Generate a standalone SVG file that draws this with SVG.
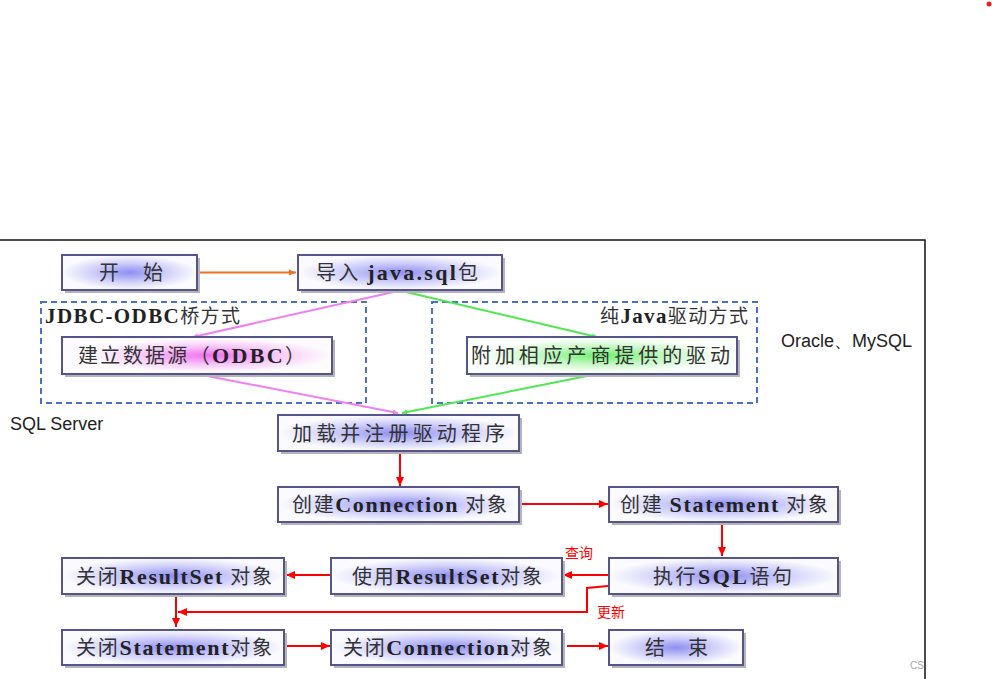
<svg xmlns="http://www.w3.org/2000/svg" width="992" height="679" viewBox="0 0 992 679">
<defs>
<radialGradient id="gBlue" cx="50%" cy="50%" r="50%">
<stop offset="0%" stop-color="#8e8ef2"/>
<stop offset="55%" stop-color="#cfcffa"/>
<stop offset="100%" stop-color="#fbfbff"/>
</radialGradient>
<radialGradient id="gPink" cx="55%" cy="50%" r="45%">
<stop offset="0%" stop-color="#f070f0"/>
<stop offset="55%" stop-color="#f8c8f8"/>
<stop offset="100%" stop-color="#fdfbff"/>
</radialGradient>
<radialGradient id="gGreen" cx="50%" cy="50%" r="45%">
<stop offset="0%" stop-color="#70f070"/>
<stop offset="55%" stop-color="#c8f8c8"/>
<stop offset="100%" stop-color="#fbfffb"/>
</radialGradient>
<marker id="aRed" markerUnits="userSpaceOnUse" markerWidth="10" markerHeight="10" refX="9" refY="5" orient="auto">
<path d="M0,1 L9,5 L0,9 Z" fill="#ff0000"/>
</marker>
<marker id="aOrange" markerUnits="userSpaceOnUse" markerWidth="8" markerHeight="8" refX="7" refY="4" orient="auto">
<path d="M0,1 L7,4 L0,7 Z" fill="#f07020"/>
</marker>
<marker id="aPink" markerUnits="userSpaceOnUse" markerWidth="6" markerHeight="6" refX="5" refY="3" orient="auto">
<path d="M0,0.5 L5,3 L0,5.5 Z" fill="#f080f0"/>
</marker>
<marker id="aGreen" markerUnits="userSpaceOnUse" markerWidth="6" markerHeight="6" refX="5" refY="3" orient="auto">
<path d="M0,0.5 L5,3 L0,5.5 Z" fill="#50e850"/>
</marker>
</defs>
<style>
.box{stroke:#55558a;stroke-width:2}
.shadow{fill:#b4b4bc}
.t{font-family:"Noto Sans CJK SC","Noto Sans CJK JP",sans-serif;font-size:20px;fill:#333}
.l{font-family:"Liberation Serif",serif;font-weight:bold;font-size:22px;fill:#222}
.dash{fill:none;stroke:#4a70c8;stroke-width:2;stroke-dasharray:6 4}
.red{fill:none;stroke:#ff0000;stroke-width:2}
.note{font-family:"Liberation Sans",Arial,sans-serif;font-size:18px;fill:#222}
.rl{font-family:"Noto Sans CJK SC",sans-serif;font-size:14px;fill:#ff0000}
.grp{font-family:"Noto Sans CJK SC",sans-serif;font-size:19px;fill:#333}
.gl{font-family:"Liberation Serif",serif;font-weight:bold;font-size:21px;fill:#222}
</style>
<rect width="992" height="679" fill="#ffffff"/>
<circle cx="989" cy="4" r="2.5" fill="#e82020"/>
<path d="M0,240 L925,240 L925,679" fill="none" stroke="#111" stroke-width="1.5"/>
<text x="910" y="669" font-family="Liberation Sans, sans-serif" font-size="10" fill="#aaa">CS</text>

<g id="group-jdbc-odbc">
<rect class="dash" x="41" y="302" width="325" height="101"/>
<text x="45" y="323" class="grp" textLength="195"><tspan class="gl" font-size="24">J</tspan><tspan class="gl">DBC-ODBC</tspan>桥方式</text>
</g>
<g id="group-pure-java">
<rect class="dash" x="432" y="302" width="325" height="101"/>
<text x="600" y="323" class="grp" textLength="148">纯<tspan class="gl">Java</tspan>驱动方式</text>
</g>

<g id="connectors">
<path d="M197,272.5 L296,272.5" stroke="#f07020" stroke-width="2" fill="none" marker-end="url(#aOrange)"/>
<path d="M398,291 L193,337" stroke="#f080f0" stroke-width="2" fill="none" marker-end="url(#aPink)"/>
<path d="M197,374 L398,413" stroke="#f080f0" stroke-width="2" fill="none" marker-end="url(#aPink)"/>
<path d="M402,291 L597,337" stroke="#50e850" stroke-width="2" fill="none" marker-end="url(#aGreen)"/>
<path d="M597,374 L402,413" stroke="#50e850" stroke-width="2" fill="none" marker-end="url(#aGreen)"/>
<path class="red" d="M400,452 L400,486" marker-end="url(#aRed)"/>
<path class="red" d="M522,504 L608,504" marker-end="url(#aRed)"/>
<path class="red" d="M722,523 L722,556" marker-end="url(#aRed)"/>
<path class="red" d="M608,575 L563,575" marker-end="url(#aRed)"/>
<path class="red" d="M330,575 L286,575" marker-end="url(#aRed)"/>
<path class="red" d="M608,586 L587,588 L587,612 L178,612" marker-end="url(#aRed)"/>
<path class="red" d="M176,594 L176,627" marker-end="url(#aRed)"/>
<path class="red" d="M286,646 L330,646" marker-end="url(#aRed)"/>
<path class="red" d="M567,646 L608,646" marker-end="url(#aRed)"/>
<text x="565" y="558" class="rl">查询</text>
<text x="597" y="617" class="rl">更新</text>
</g>

<g id="node-start">
<rect class="shadow" x="65" y="258" width="135" height="35"/>
<rect class="box" x="62" y="255" width="135" height="35" fill="url(#gBlue)"/>
<text x="99" y="280" class="t" textLength="64">开 始</text>
</g>
<g id="node-import">
<rect class="shadow" x="301" y="258" width="204" height="35"/>
<rect class="box" x="298" y="255" width="204" height="35" fill="url(#gBlue)"/>
<text x="316" y="280" class="t" textLength="162">导入 <tspan class="l">java.sql</tspan>包</text>
</g>
<g id="node-odbc">
<rect class="shadow" x="65" y="340" width="270" height="37"/>
<rect class="box" x="62" y="337" width="270" height="37" fill="url(#gPink)"/>
<text x="78" y="363" class="t" textLength="227">建立数据源（<tspan class="l">ODBC</tspan>）</text>
</g>
<g id="node-vendor">
<rect class="shadow" x="470" y="340" width="270" height="37"/>
<rect class="box" x="467" y="337" width="270" height="37" fill="url(#gGreen)"/>
<text x="471" y="363" class="t" textLength="259">附加相应产商提供的驱动</text>
</g>
<text x="781" y="347" class="note">Oracle、MySQL</text>
<text x="10" y="430" class="note">SQL Server</text>
<g id="node-load">
<rect class="shadow" x="281" y="418" width="241" height="36"/>
<rect class="box" x="278" y="415" width="241" height="36" fill="url(#gBlue)"/>
<text x="292" y="441" class="t" textLength="213">加载并注册驱动程序</text>
</g>
<g id="node-connection">
<rect class="shadow" x="281" y="490" width="241" height="35"/>
<rect class="box" x="278" y="487" width="241" height="35" fill="url(#gBlue)"/>
<text x="292" y="512" class="t" textLength="215">创建<tspan class="l">Connection</tspan> 对象</text>
</g>
<g id="node-statement">
<rect class="shadow" x="612" y="490" width="229" height="35"/>
<rect class="box" x="609" y="487" width="229" height="35" fill="url(#gBlue)"/>
<text x="620" y="512" class="t" textLength="208">创建 <tspan class="l">Statement</tspan> 对象</text>
</g>
<g id="node-execute">
<rect class="shadow" x="612" y="561" width="229" height="36"/>
<rect class="box" x="609" y="558" width="229" height="36" fill="url(#gBlue)"/>
<text x="653" y="584" class="t" textLength="139">执行<tspan class="l">SQL</tspan>语句</text>
</g>
<g id="node-use-resultset">
<rect class="shadow" x="334" y="561" width="231" height="36"/>
<rect class="box" x="331" y="558" width="231" height="36" fill="url(#gBlue)"/>
<text x="352" y="584" class="t" textLength="190">使用<tspan class="l">ResultSet</tspan>对象</text>
</g>
<g id="node-close-resultset">
<rect class="shadow" x="65" y="561" width="222" height="36"/>
<rect class="box" x="62" y="558" width="222" height="36" fill="url(#gBlue)"/>
<text x="76" y="584" class="t" textLength="196">关闭<tspan class="l">ResultSet</tspan> 对象</text>
</g>
<g id="node-close-statement">
<rect class="shadow" x="65" y="633" width="222" height="35"/>
<rect class="box" x="62" y="630" width="222" height="35" fill="url(#gBlue)"/>
<text x="76" y="655" class="t" textLength="196">关闭<tspan class="l">Statement</tspan>对象</text>
</g>
<g id="node-close-connection">
<rect class="shadow" x="334" y="633" width="231" height="35"/>
<rect class="box" x="331" y="630" width="231" height="35" fill="url(#gBlue)"/>
<text x="343" y="655" class="t" textLength="209">关闭<tspan class="l">Connection</tspan>对象</text>
</g>
<g id="node-end">
<rect class="shadow" x="612" y="633" width="134" height="35"/>
<rect class="box" x="609" y="630" width="134" height="35" fill="url(#gBlue)"/>
<text x="645" y="655" class="t" textLength="63">结 束</text>
</g>
</svg>
